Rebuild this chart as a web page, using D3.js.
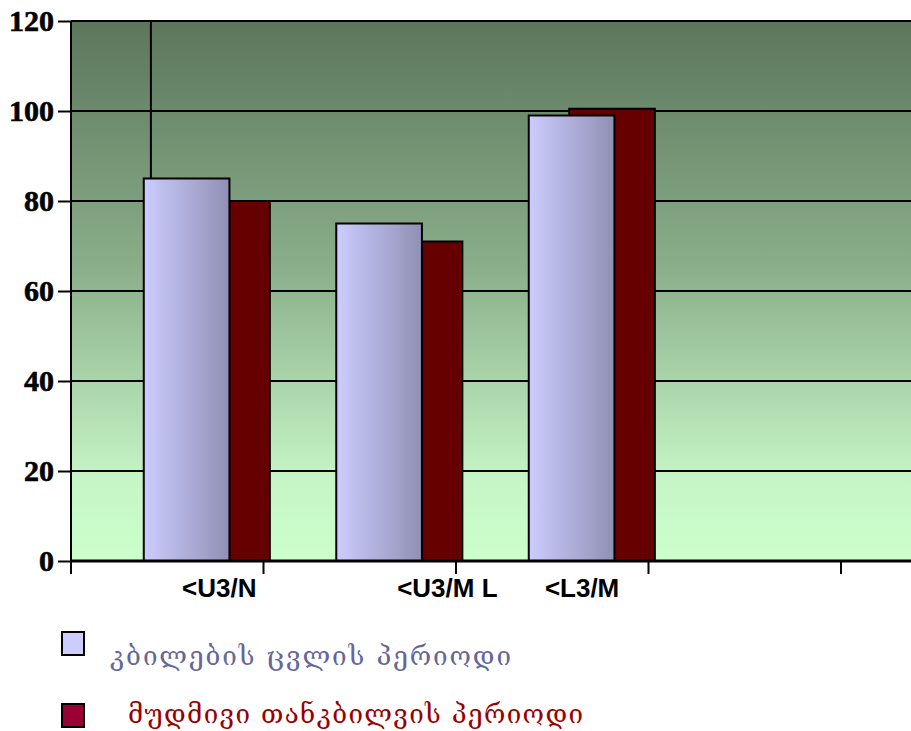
<!DOCTYPE html>
<html>
<head>
<meta charset="utf-8">
<script src="https://cdn.jsdelivr.net/npm/d3@7"></script>
<style>
  body { margin: 0; background: #fff; }
  svg { display: block; }
</style>
</head>
<body>
<svg></svg>
<script>
// teeth change vs permanent dentition
var categories = ['<U3/N', '<U3/ML', '<L3/M', 'c4', 'c5'];
var tickLabels = ['<U3/N', '<U3/M L', '<L3/M', '', ''];
var changePeriod = [85, 75, 99];
var permanentPeriod = [80, 71, 100.5];
var yTicks = [0, 20, 40, 60, 80, 100, 120];
var legendLabels = ['კბილების  ცვლის  პერიოდი', 'მუდმივი  თანკბილვის  პერიოდი'];

var width = 911;
var height = 731;
var svg = d3.select('svg')
              .attr('width', width)
              .attr('height', height);

var plotLeft = 71, plotTop = 21, plotBottom = 561;
var bw = 192.5;

var x = d3.scaleBand()
            .domain(categories)
            .range([plotLeft, plotLeft + bw * categories.length])
            .padding(0);
var y = d3.scaleLinear()
            .domain([0, 120])
            .range([plotBottom, plotTop]);

var defs = svg.append('defs');
var bg = defs.append('linearGradient')
    .attr('id', 'bg')
    .attr('x1', 0).attr('y1', 0).attr('x2', 0).attr('y2', 1);
bg.append('stop').attr('offset', '0%').attr('stop-color', '#5c765c');
bg.append('stop').attr('offset', '45%').attr('stop-color', '#89ad89');
bg.append('stop').attr('offset', '85%').attr('stop-color', '#c6f5c6');
bg.append('stop').attr('offset', '100%').attr('stop-color', '#ccffcc');

var lb = defs.append('linearGradient')
    .attr('id', 'lightbar')
    .attr('x1', 0).attr('y1', 0).attr('x2', 1).attr('y2', 0);
lb.append('stop').attr('offset', '0%').attr('stop-color', '#ccccff');
lb.append('stop').attr('offset', '100%').attr('stop-color', '#9090b4');

// plot background
svg.append('rect')
    .attr('x', plotLeft)
    .attr('y', plotTop)
    .attr('width', width - plotLeft)
    .attr('height', plotBottom - plotTop)
    .attr('fill', 'url(#bg)');

// grid
svg.append('g')
  .selectAll('line')
  .data(yTicks.slice(1))
  .enter()
  .append('line')
    .attr('x1', plotLeft)
    .attr('x2', width)
    .attr('y1', d => y(d))
    .attr('y2', d => y(d))
    .attr('stroke', '#000')
    .attr('stroke-width', 2);

// odd vertical drop line above first bar
svg.append('line')
    .attr('x1', x(categories[0]) + bw * 0.415)
    .attr('x2', x(categories[0]) + bw * 0.415)
    .attr('y1', y(120))
    .attr('y2', y(changePeriod[0]))
    .attr('stroke', '#000')
    .attr('stroke-width', 2);

var barW = bw * 0.445;
var lightX = (d, i) => x(categories[i]) + bw * 0.378;

// back series
svg.append('g')
  .selectAll('rect')
  .data(permanentPeriod)
  .enter()
  .append('rect')
    .attr('x', (d, i) => lightX(d, i) + bw * 0.21)
    .attr('y', d => y(d))
    .attr('width', barW)
    .attr('height', d => y(0) - y(d))
    .attr('fill', '#660000')
    .attr('stroke', '#000')
    .attr('stroke-width', 2);

// front series
svg.append('g')
  .selectAll('rect')
  .data(changePeriod)
  .enter()
  .append('rect')
    .attr('x', lightX)
    .attr('y', d => y(d))
    .attr('width', barW)
    .attr('height', d => y(0) - y(d))
    .attr('fill', 'url(#lightbar)')
    .attr('stroke', '#000')
    .attr('stroke-width', 2);

// y axis
var yAxis = svg.append('g')
    .attr('transform', `translate(${plotLeft},0)`)
    .call(d3.axisLeft(y).tickValues(yTicks).tickSize(13).tickPadding(4));
yAxis.select('.domain').attr('stroke-width', 2).attr('d', `M0,${plotTop}V${plotBottom}`);
yAxis.selectAll('.tick line').attr('stroke-width', 2);
yAxis.selectAll('text')
    .attr('font-family', '"Liberation Serif", "Times New Roman", serif')
    .attr('font-weight', 'bold')
    .attr('font-size', 30)
    .attr('stroke', '#000')
    .attr('stroke-width', 0.6)
    .attr('fill', '#000');

// x axis
var xAxis = svg.append('g')
    .attr('transform', `translate(0,${plotBottom})`);
xAxis.append('line')
    .attr('x1', plotLeft)
    .attr('x2', width)
    .attr('stroke', '#000')
    .attr('stroke-width', 3);
xAxis.selectAll('.xtick')
  .data(categories)
  .enter()
  .append('line')
    .attr('x1', d => x(d))
    .attr('x2', d => x(d))
    .attr('y1', 0)
    .attr('y2', 13)
    .attr('stroke', '#000')
    .attr('stroke-width', 2);

var labelShift = [0.77, 0.955, 0.655];
xAxis.selectAll('.xlabel')
  .data(tickLabels.slice(0, 3))
  .enter()
  .append('text')
    .attr('x', (d, i) => x(categories[i]) + bw * labelShift[i])
    .attr('y', 36)
    .attr('text-anchor', 'middle')
    .attr('font-family', '"Liberation Sans", Arial, sans-serif')
    .attr('font-weight', 'bold')
    .attr('font-size', 26)
    .attr('fill', '#000')
    .text(d => d);

// legend
var legendFill = ['#ccccff', '#990033'];
var legendText = ['#666699', '#990000'];
var legendTextX = [110, 128];
var legendTextW = [401, 455];
var legend = svg.append('g');
legend.selectAll('rect')
  .data(legendLabels)
  .enter()
  .append('rect')
    .attr('x', 62)
    .attr('y', (d, i) => 632 + i * 72)
    .attr('width', 22)
    .attr('height', 23)
    .attr('fill', (d, i) => legendFill[i])
    .attr('stroke', '#000')
    .attr('stroke-width', 2);
legend.selectAll('text')
  .data(legendLabels)
  .enter()
  .append('text')
    .attr('x', (d, i) => legendTextX[i])
    .attr('y', (d, i) => 665 + i * 58)
    .attr('font-family', '"DejaVu Serif", "DejaVu Sans", serif')
    .attr('font-size', 26)
    .attr('fill', (d, i) => legendText[i])
    .attr('textLength', (d, i) => legendTextW[i])
    .attr('lengthAdjust', 'spacing')
    .text(d => d);
</script>
</body>
</html>
